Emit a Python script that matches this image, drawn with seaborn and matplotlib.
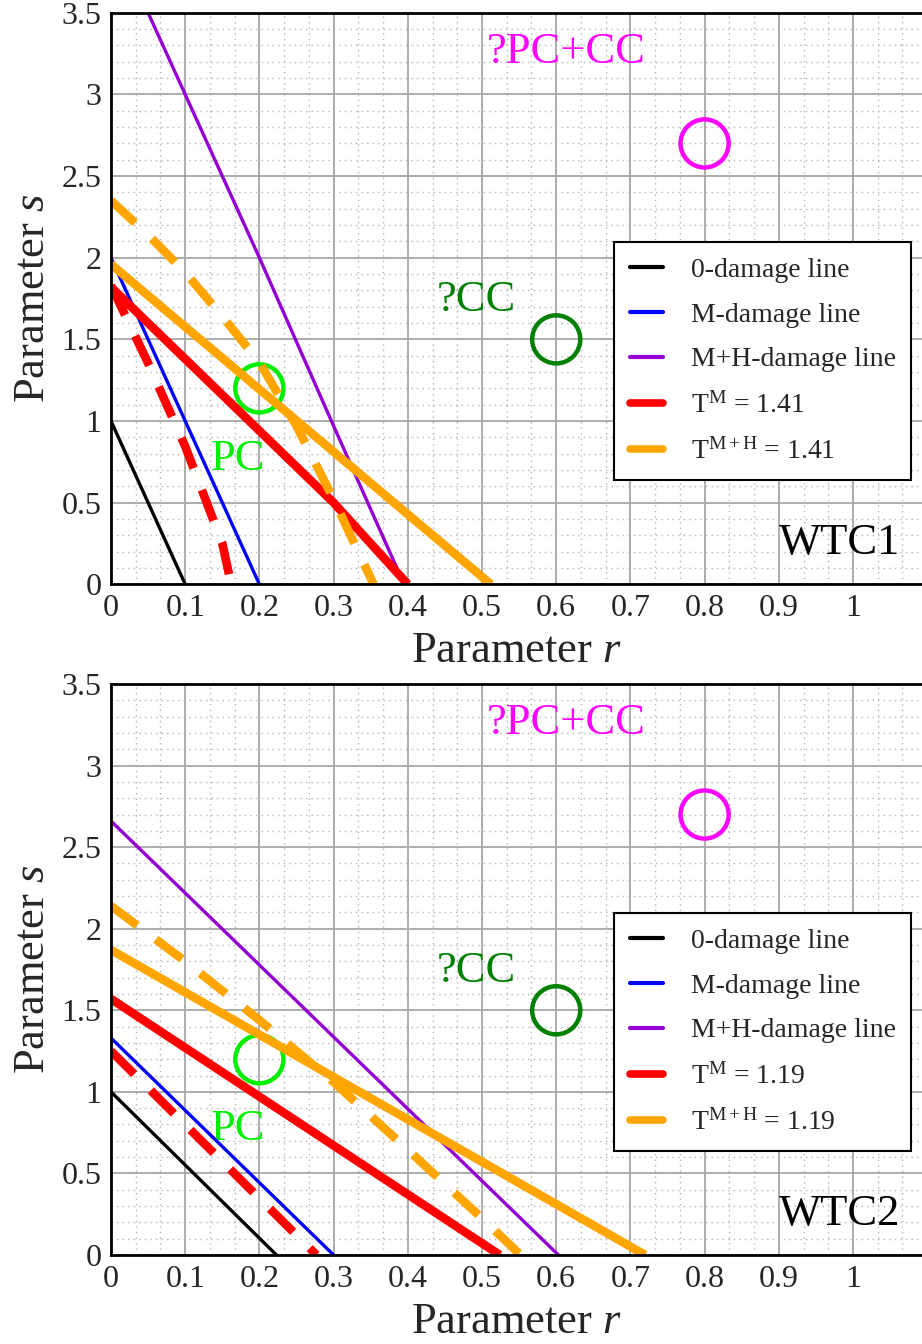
import numpy as np
import pandas as pd
import matplotlib
matplotlib.use("Agg")
import matplotlib.pyplot as plt
import seaborn as sns
from matplotlib.ticker import MultipleLocator, FuncFormatter
from matplotlib.lines import Line2D

# ---------------- data ----------------
# WTC1
r_zero1 = [0.0, 0.1];              s_zero1 = [1.0, 0.0]
r_m1 = [0.0, 0.2];                 s_m1 = [2.0, 0.0]
r_mh1 = [0.0, 0.2, 0.3, 0.395];    s_mh1 = [4.0, 2.0, 0.97, 0.0]
r_tm1 = [0.0, 0.1, 0.2, 0.3, 0.4]; s_tm1 = [1.82, 1.38, 0.94, 0.50, 0.0]
r_tmd1 = [0.0, 0.05, 0.10, 0.15, 0.162]; s_tmd1 = [1.83, 1.355, 0.845, 0.25, 0.0]
r_tmh1 = [0.0, 0.512];             s_tmh1 = [1.96, 0.0]
r_tmhd1 = [0.0, 0.05, 0.1, 0.15, 0.2, 0.25, 0.3, 0.354]
s_tmhd1 = [2.35, 2.14, 1.91, 1.64, 1.36, 0.97, 0.52, 0.0]
T1 = "1.41"

# WTC2
r_zero2 = [0.0, 0.223];            s_zero2 = [1.0, 0.0]
r_m2 = [0.0, 0.30];                s_m2 = [1.33, 0.0]
r_mh2 = [0.0, 0.603];              s_mh2 = [2.66, 0.0]
r_tm2 = [0.0, 0.524];              s_tm2 = [1.57, 0.0]
r_tmd2 = [0.0, 0.277];             s_tmd2 = [1.25, 0.0]
r_tmh2 = [0.0, 0.72];              s_tmh2 = [1.87, 0.0]
r_tmhd2 = [0.0, 0.1, 0.2, 0.3, 0.4, 0.5, 0.552]
s_tmhd2 = [2.14, 1.80, 1.44, 1.06, 0.645, 0.225, 0.0]
T2 = "1.19"

# reference points (circles)
pt_labels = ["PC", "?CC", "?PC+CC"]
pt_r = [0.2, 0.6, 0.8]
pt_s = [1.2, 1.5, 2.7]
pt_colors = ["#00ee00", "#008000", "#ff00ff"]
lab_r = [0.171, 0.493, 0.613]
lab_s = [0.77, 1.74, 3.26]

legend_labels = ["0-damage line", "M-damage line", "M+H-damage line"]

# ---------------- style ----------------
sns.set_style("white")
plt.rcParams["font.family"] = ["Liberation Serif", "DejaVu Serif"]
plt.rcParams["mathtext.fontset"] = "custom"
plt.rcParams["mathtext.rm"] = "Liberation Serif"
plt.rcParams["mathtext.it"] = "Liberation Serif:italic"

W, H = 922, 1344
fig = plt.figure(figsize=(W / 100, H / 100), dpi=100)
X0 = 111
PX_PER_R = 742.0


def make_axes(top_px, bottom_px):
    return fig.add_axes([X0 / W, 1 - bottom_px / H, (W - X0) / W, (bottom_px - top_px) / H])


C_BLACK, C_BLUE, C_PURPLE, C_RED, C_ORANGE = "black", "#0000ff", "#9400d3", "#ff0000", "#ffa500"
THIN, THICK = 2.4, 6.2
DASH = [3.8, 2.7]


def line(ax, r, s, color, lw, dashed=False):
    sns.lineplot(x=r, y=s, ax=ax, color=color, linewidth=lw, sort=False,
                 estimator=None, legend=False)
    ln = ax.lines[-1]
    ln.set_solid_capstyle("butt")
    if dashed:
        ln.set_dashes(DASH)
        ln.set_dash_capstyle("butt")
    return ln


def panel(ax, zero, m, mh, tm, tmd, tmh, tmhd, T, tag):
    ax.set_xlim(0, (W - X0) / PX_PER_R)
    ax.set_ylim(0, 3.5)
    ax.set_axisbelow(True)
    ax.xaxis.set_major_locator(MultipleLocator(0.1))
    ax.xaxis.set_minor_locator(MultipleLocator(0.1 / 3))
    ax.yaxis.set_major_locator(MultipleLocator(0.5))
    ax.yaxis.set_minor_locator(MultipleLocator(0.1))
    fmt = FuncFormatter(lambda v, p: f"{v:g}")
    ax.xaxis.set_major_formatter(fmt)
    ax.yaxis.set_major_formatter(fmt)
    ax.grid(which="major", color="#a6a6a6", linewidth=1.3, linestyle="-")
    ax.grid(which="minor", color="#b4b4b4", linewidth=1.0, linestyle=(0, (1, 3)))
    ax.tick_params(which="both", length=0, labelsize=23, pad=7)
    for sp in ["top", "left", "bottom"]:
        ax.spines[sp].set_color("black")
        ax.spines[sp].set_linewidth(2.0)
    ax.spines["right"].set_visible(False)

    # circles + labels
    for i in range(len(pt_labels)):
        sns.scatterplot(x=[pt_r[i]], y=[pt_s[i]], ax=ax, marker="o", s=1200,
                        facecolor="none", edgecolor=pt_colors[i], linewidth=3.2,
                        legend=False, zorder=2)
        ax.text(lab_r[i], lab_s[i], pt_labels[i], color=pt_colors[i], fontsize=32,
                ha="center", va="center", zorder=2)

    line(ax, *zero, C_BLACK, THIN)
    line(ax, *m, C_BLUE, THIN)
    line(ax, *mh, C_PURPLE, THIN)
    line(ax, *tm, C_RED, THICK)
    line(ax, *tmd, C_RED, THICK, dashed=True)
    line(ax, *tmh, C_ORANGE, THICK)
    line(ax, *tmhd, C_ORANGE, THICK, dashed=True)

    ax.text(0.982, 0.25, tag, fontsize=32, ha="center", va="center", color="black")

    ax.set_xlabel("Parameter $r$", fontsize=32, labelpad=6)
    ax.set_ylabel("Parameter $s$", fontsize=32, labelpad=6)

    handles = [
        Line2D([0], [0], color=C_BLACK, lw=3),
        Line2D([0], [0], color=C_BLUE, lw=3),
        Line2D([0], [0], color=C_PURPLE, lw=3),
        Line2D([0], [0], color=C_RED, lw=5.5),
        Line2D([0], [0], color=C_ORANGE, lw=5.5),
    ]
    labels = legend_labels + [r"T$^{\rm M}$ = " + T, r"T$^{\rm M+H}$ = " + T]
    ax_w = (W - X0)
    leg = ax.legend(handles, labels, loc="upper right",
                    bbox_to_anchor=((911 - X0) / ax_w, 0.599),
                    borderaxespad=0, fontsize=20, handlelength=1.2,
                    handletextpad=1.0, labelspacing=0.7, borderpad=0.55,
                    fancybox=False, frameon=True, framealpha=1)
    leg.get_frame().set_edgecolor("black")
    leg.get_frame().set_linewidth(1.5)


ax1 = make_axes(12.8, 584.3)
ax2 = make_axes(684.0, 1255.0)

panel(ax1, (r_zero1, s_zero1), (r_m1, s_m1), (r_mh1, s_mh1), (r_tm1, s_tm1),
      (r_tmd1, s_tmd1), (r_tmh1, s_tmh1), (r_tmhd1, s_tmhd1), T1, "WTC1")
panel(ax2, (r_zero2, s_zero2), (r_m2, s_m2), (r_mh2, s_mh2), (r_tm2, s_tm2),
      (r_tmd2, s_tmd2), (r_tmh2, s_tmh2), (r_tmhd2, s_tmhd2), T2, "WTC2")

fig.savefig("out.png", dpi=100)
